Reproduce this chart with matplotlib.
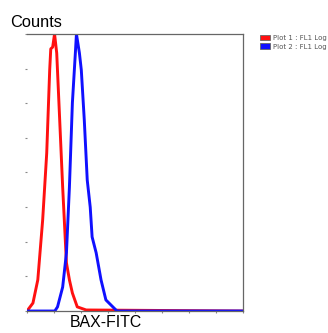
import matplotlib
matplotlib.use("Agg")
import matplotlib.pyplot as plt
from matplotlib.patches import Patch

# Data (x in log-decade units, y in counts)
red_x = [0.0, 0.22, 0.40, 0.58, 0.73, 0.84, 0.88, 0.95, 1.02, 1.10, 1.21, 1.32, 1.46, 1.57, 1.68, 1.86, 2.19, 8.0]
red_y = [0.0, 2.3, 9.0, 26.3, 45.6, 69.6, 75.7, 76.2, 80.0, 74.5, 55.2, 35.8, 13.9, 9.0, 5.2, 1.2, 0.3, 0.0]
blue_x = [0.0, 1.03, 1.13, 1.32, 1.46, 1.57, 1.68, 1.79, 1.83, 1.94, 2.01, 2.12, 2.23, 2.34, 2.41, 2.56, 2.74, 2.92, 3.33, 8.0]
blue_y = [0.0, 0.0, 1.2, 6.9, 16.8, 35.8, 60.1, 74.5, 80.0, 74.5, 69.6, 55.2, 37.8, 30.0, 21.4, 16.8, 9.0, 3.2, 0.0, 0.0]
legend_labels = ["Plot 1 : FL1 Log", "Plot 2 : FL1 Log"]
x_label = "BAX-FITC"
y_label = "Counts"

fig = plt.figure(figsize=(3.28, 3.33), dpi=100)
ax = fig.add_axes([0.0823, 0.066, 0.659, 0.832])
ax.plot(red_x, red_y, color="#ff1010", lw=2.1, solid_joinstyle="round")
ax.plot(blue_x, blue_y, color="#1010ff", lw=2.1, solid_joinstyle="round")
ax.set_xlim(0, 8)
ax.set_ylim(0, 80)
ax.set_xticks(range(0, 9))
ax.set_yticks(range(0, 81, 10))
ax.set_xticklabels([])
ax.set_yticklabels([])
ax.tick_params(length=1.5, width=0.8, color="#888888", direction="out")
ax.spines["left"].set_visible(False)
for s in ["top", "right", "bottom"]:
    ax.spines[s].set_color("#666666")
    ax.spines[s].set_linewidth(0.9)

fig.text(0.03, 0.918, y_label, fontsize=11.8, family="Liberation Sans", color="black")
fig.text(0.213, 0.008, x_label, fontsize=11.4, family="Liberation Sans", color="black",
         va="bottom")

handles = [Patch(facecolor="#ff1010", edgecolor="#666666", lw=0.6),
           Patch(facecolor="#1010ff", edgecolor="#666666", lw=0.6)]
fig.legend(handles, legend_labels, loc="upper left", bbox_to_anchor=(0.775, 0.915),
           fontsize=5.0, frameon=False, handlelength=1.4, handleheight=0.9,
           handletextpad=0.4, labelspacing=0.35, labelcolor="#555555")

fig.savefig("out.png", dpi=100)
